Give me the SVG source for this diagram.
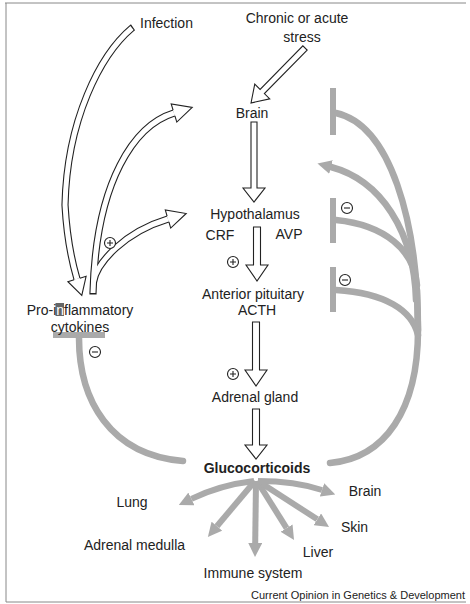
<svg xmlns="http://www.w3.org/2000/svg" width="470" height="604" viewBox="0 0 470 604">
<style>
text{font-family:"Liberation Sans",Arial,sans-serif;font-size:14px;fill:#222}
.b{font-weight:bold}
.sm{font-size:11px}
.hol{fill:#fff;stroke:#222;stroke-width:1.1;stroke-linejoin:miter}
.tubeB{fill:none;stroke:#222;stroke-width:7.2}
.tubeW{fill:none;stroke:#fff;stroke-width:5}
.g{fill:none;stroke:#aaa;stroke-width:6.5;stroke-linecap:round}
.gbar{fill:#aaa}
.sign{fill:#fff;stroke:#222;stroke-width:1.1}
.frame{stroke:#888;stroke-width:1;fill:none}
</style>
<defs>
<marker id="ga" viewBox="0 0 14 14" refX="0" refY="7" markerWidth="14" markerHeight="14" markerUnits="userSpaceOnUse" orient="auto">
<path d="M0,0 L14,7 L0,14 Z" fill="#aaa"/>
</marker>
</defs>

<g id="frame">
<path class="frame" d="M5,3 H466 M6,3 V602 M6,602 H466"/>
</g>

<g id="connectors">
<!-- hollow curved arrows on left -->
<g id="left-tubes">
<path class="tubeB" d="M133,27.3 L132,28 C100,55 67,120 65,205 C67,240 72,262 77,279"/>
<path class="tubeB" d="M93,294.5 L93,293 C96,180 135,125 174,113"/>
<path class="tubeB" d="M93.5,282 C97,262 125,232 168,219"/>
<path class="tubeW" d="M132,28 C100,55 67,120 65,205 C67,240 72,262 77,279"/>
<path class="tubeW" d="M93,293 C96,180 135,125 174,113"/>
<path class="tubeW" d="M93.5,282 C97,262 125,232 168,219"/>
<path class="hol" d="M74.1,279.8 L67.9,281.7 L81.8,295.3 L86.1,276.3 L79.9,278.2"/>
<path class="hol" d="M174.9,115.9 L176.8,122.1 L192.2,107.4 L171.2,103.9 L173.1,110.1"/>
<path class="hol" d="M168.9,221.9 L170.7,228.1 L186.2,213.5 L165.3,209.9 L167.1,216.1"/>
</g>
<!-- stress arrow -->
<polygon class="hol" transform="translate(305,48) rotate(134.5)" points="0,-3 61,-3 61,-10.5 77,0 61,10.5 61,3 0,3"/>
<!-- central column -->
<polygon class="hol" points="251,122 257,122 257,188 265,188 254,202 243,188 251,188"/>
<polygon class="hol" points="253.5,227 260.5,227 260.5,265 268,265 257,281 246,265 253.5,265"/>
<polygon class="hol" points="252.5,322 259.5,322 259.5,370 267,370 256,386 245,370 252.5,370"/>
<polygon class="hol" points="252.5,409 259.5,409 259.5,445 267,445 256,459 245,445 252.5,445"/>

<!-- left grey inhibition -->
<rect class="gbar" x="53" y="332" width="52" height="6"/>
<path class="g" d="M79,338 C79,400 110,455 183,461"/>

<!-- right grey feedback -->
<path class="g" d="M330,463 C385,458 418,410 418,330 L417,290"/>
<path class="g" d="M418,330 C418,220 390,125 336,113"/>
<path class="g" d="M416,300 C414,230 380,180 331,167" marker-end="url(#ga)" stroke-linecap="butt"/>
<path class="g" d="M417,285 C414,250 385,225 336,220"/>
<path class="g" d="M418,335 C412,310 385,293 336,290"/>
<rect class="gbar" x="330" y="88" width="6" height="47"/>
<rect class="gbar" x="330" y="198" width="6" height="45"/>
<rect class="gbar" x="330" y="267" width="6" height="45"/>

<!-- glucocorticoid targets -->
<g stroke="#aaa" stroke-width="6" fill="none" marker-end="url(#ga)">
<path d="M254,481 Q220,485 191.4,498.9"/>
<path d="M255,481 L216.9,526.2"/>
<path d="M256,481 L255.2,543"/>
<path d="M257,481 L286.6,528.1"/>
<path d="M258,481 L317.3,519.3"/>
<path d="M258,481 Q295,481 322,490"/>
</g>
</g>

<g id="signs">
<g id="plus1"><circle class="sign" cx="110" cy="243" r="5.5"/><path d="M107,243 H113 M110,240 V246" stroke="#222" stroke-width="1.1"/></g>
<g id="plus2"><circle class="sign" cx="233" cy="262" r="5.5"/><path d="M230,262 H236 M233,259 V265" stroke="#222" stroke-width="1.1"/></g>
<g id="plus3"><circle class="sign" cx="233" cy="374" r="5.5"/><path d="M230,374 H236 M233,371 V377" stroke="#222" stroke-width="1.1"/></g>
<g id="minus1"><circle class="sign" cx="95" cy="352" r="5.5"/><path d="M92,352 H98" stroke="#222" stroke-width="1.1"/></g>
<g id="minus2"><circle class="sign" cx="347" cy="208" r="5.5"/><path d="M344,208 H350" stroke="#222" stroke-width="1.1"/></g>
<g id="minus3"><circle class="sign" cx="345" cy="280" r="5.5"/><path d="M342,280 H348" stroke="#222" stroke-width="1.1"/></g>
</g>

<g id="n-infection"><text x="140" y="28">Infection</text></g>
<g id="n-stress"><text x="297" y="23" text-anchor="middle">Chronic or acute</text><text x="302" y="42" text-anchor="middle">stress</text></g>
<g id="n-brain"><text x="252" y="118" text-anchor="middle">Brain</text></g>
<g id="n-hypothalamus"><text x="255" y="219" text-anchor="middle">Hypothalamus</text>
<text x="220" y="240" text-anchor="middle">CRF</text><text x="289" y="239" text-anchor="middle">AVP</text></g>
<g id="n-pituitary"><text x="253" y="299" text-anchor="middle">Anterior pituitary</text><text x="257" y="315" text-anchor="middle">ACTH</text></g>
<g id="n-adrenal"><text x="255" y="402" text-anchor="middle">Adrenal gland</text></g>
<g id="n-gluco"><text class="b" x="257" y="473" text-anchor="middle">Glucocorticoids</text></g>
<g id="n-cytokines"><rect x="55.5" y="303" width="8.5" height="13" fill="#666"/>
<text x="80" y="315" text-anchor="middle">Pro-i<tspan style="fill:#fff">n</tspan>flammatory</text>
<text x="80" y="332" text-anchor="middle">cytokines</text></g>
<g id="n-lung"><text x="132" y="507" text-anchor="middle">Lung</text></g>
<g id="n-adrmed"><text x="134.5" y="550" text-anchor="middle">Adrenal medulla</text></g>
<g id="n-immune"><text x="253" y="578" text-anchor="middle">Immune system</text></g>
<g id="n-liver"><text x="318" y="557" text-anchor="middle">Liver</text></g>
<g id="n-skin"><text x="354.5" y="532" text-anchor="middle">Skin</text></g>
<g id="n-brain2"><text x="365" y="496" text-anchor="middle">Brain</text></g>
<g id="credit"><text class="sm" x="465" y="599" text-anchor="end">Current Opinion in Genetics &amp; Development</text></g>
</svg>
